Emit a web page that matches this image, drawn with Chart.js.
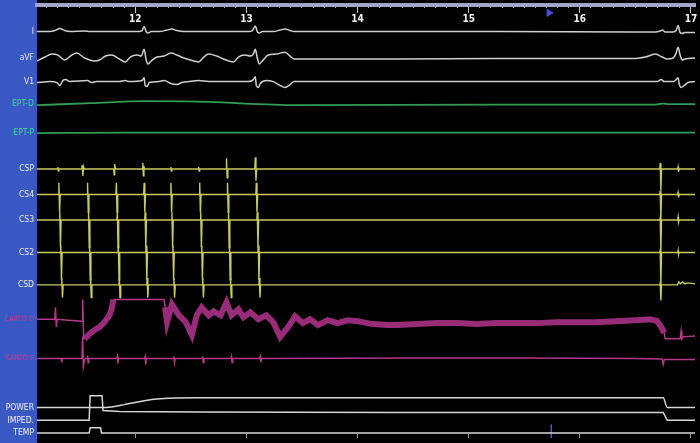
<!DOCTYPE html>
<html>
<head>
<meta charset="utf-8">
<script src="https://cdn.jsdelivr.net/npm/chart.js@4.4.1/dist/chart.umd.min.js"></script>
<style>
  html, body { margin: 0; padding: 0; background: #000; }
  #wrap { width: 700px; height: 443px; }
</style>
</head>
<body>
<div id="wrap"><canvas id="epChart" width="700" height="443"></canvas></div>
<script>
// time window shown on screen (seconds)
const timeMin = 11.116;
const timeMax = 17.036;
const majorTicks = [12, 13, 14, 15, 16, 17];
const majorTickLabels = ['12', '13', '14', '15', '16', '17'];

// channels, top to bottom, and their screen lanes (display units from the top)
const channelNames = ['I', 'aVF', 'V1', 'EPT-D', 'EPT-P', 'CSP', 'CS4', 'CS3', 'CS2', 'CSD', 'CARTO D', 'CARTO P', 'POWER', 'IMPED.', 'TEMP'];
const channelLanes = [29, 56, 80, 103, 132, 169, 195, 221, 254, 287, 322, 362, 412, 425, 438];
const labelColors = ['#e6e6ee', '#e6e6ee', '#e6e6ee', '#3ddc97', '#3ddc97', '#ececd8', '#ececd8', '#ececd8', '#ececd8', '#ececd8', '#e0308a', '#e0308a', '#f0f0f0', '#f0f0f0', '#f0f0f0'];

// each signal: [time s, deflection up]
const sigI = [[11.116,0],[11.232,0],[11.277,1],[11.321,3],[11.366,1],[11.411,0],[11.545,0.5],[11.589,0],[12.036,0],[12.0625,1],[12.080,5],[12.098,0],[12.116,-1.5],[12.143,0],[12.214,0],[12.286,1.5],[12.330,2.5],[12.375,1],[12.4375,0],[13.018,0],[13.054,1],[13.080,5.5],[13.098,0],[13.116,-1.5],[13.143,0],[13.241,0],[13.304,1.5],[13.348,2.5],[13.393,1],[13.429,0],[15.25,0],[16.5,-0.5],[16.679,-0.5],[16.723,0.5],[16.741,1.5],[16.768,-0.5],[16.839,-0.5],[16.866,1],[16.884,6],[16.902,-1],[16.920,-2],[16.946,-1],[17.036,-1]];
const sigAVF = [[11.116,-3],[11.1875,1],[11.25,4],[11.304,3],[11.366,-2],[11.429,3],[11.473,5],[11.545,0],[11.634,-3],[11.679,-2],[11.732,2],[11.786,3],[11.857,-1],[11.911,-4],[11.955,1],[12.018,3],[12.054,2],[12.080,9],[12.098,-2],[12.116,-6],[12.143,-3],[12.196,1],[12.259,2],[12.321,5],[12.375,3],[12.4375,0],[12.527,-3],[12.571,-4],[12.616,1],[12.661,4],[12.732,2],[12.795,-1],[12.884,-4],[12.929,1],[12.982,3],[13.036,2],[13.0625,4],[13.080,9],[13.098,0],[13.116,-6],[13.143,-3],[13.196,3],[13.268,4],[13.348,6],[13.393,2],[13.429,-1],[14.357,-1],[15.25,-0.5],[16.5,-0.5],[16.589,1],[16.679,4],[16.741,1],[16.786,-1],[16.839,0],[16.866,5],[16.884,11],[16.902,3],[16.920,-2],[16.946,-1],[17.036,0]];
const sigV1 = [[11.116,-1],[11.232,0],[11.295,-1],[11.321,-4],[11.348,1],[11.375,2],[11.411,0],[11.571,1],[11.607,-1],[11.652,0],[11.857,0],[11.911,1],[11.946,0],[12.0625,1],[12.080,4],[12.089,-4],[12.107,-5],[12.125,-1],[12.214,0],[12.259,1],[12.321,-2],[12.375,-3],[12.420,-1],[12.482,0],[12.571,1],[12.661,0],[13.018,0],[13.0625,2],[13.080,5],[13.089,-4],[13.107,-6],[13.125,-2],[13.179,1],[13.241,0],[13.304,-4],[13.348,-6],[13.393,-3],[13.429,0],[15.25,0],[16.696,0],[16.732,2],[16.759,0],[16.839,0],[16.866,2],[16.884,4],[16.893,-2],[16.911,-6],[16.938,-4],[16.973,-1],[17.036,0]];
const sigEptD = [[11.116,-1],[11.6,1],[12.080,3],[12.571,2.5],[13.464,-1],[15.25,-0.5],[16.679,-0.5],[16.741,0.5],[16.813,0],[17.036,0]];
const sigEptP = [[11.116,-0.5],[12.0,0],[17.036,0]];

const sigCSP = [[11.116,0],[11.300,0],[11.304,2],[11.308,-2],[11.312,0],[11.519,0],[11.523,4],[11.529,-7],[11.535,2],[11.541,0],[11.806,0],[11.810,-6],[11.815,5],[11.821,0],[12.064,0],[12.068,6],[12.073,-7],[12.078,3],[12.083,0],[12.317,0],[12.321,2],[12.325,-2],[12.329,0],[12.567,0],[12.571,2],[12.575,-2],[12.579,0],[12.817,0],[12.821,11],[12.827,-9],[12.833,0],[13.076,0],[13.080,12],[13.086,-12],[13.092,0],[16.719,0],[16.723,6],[16.729,-22],[16.735,0],[16.880,0],[16.884,2],[16.888,-3],[16.893,0],[17.036,0]];
const sigCS4 = [[11.116,0],[11.309,0],[11.313,12],[11.319,-18],[11.325,0],[11.567,0],[11.571,12],[11.577,-18],[11.583,0],[11.826,0],[11.830,12],[11.836,-18],[11.842,0],[12.076,0],[12.080,12],[12.086,-18],[12.092,0],[12.317,0],[12.321,12],[12.327,-18],[12.333,0],[12.576,0],[12.580,12],[12.586,-18],[12.592,0],[12.826,0],[12.830,12],[12.836,-18],[12.842,0],[13.085,0],[13.089,12],[13.095,-18],[13.101,0],[16.719,0],[16.723,4],[16.729,-24],[16.735,0],[16.880,0],[16.884,2],[16.888,-3],[16.893,0],[17.036,0]];
const sigCS3 = [[11.116,0],[11.317,0],[11.321,8],[11.327,-28],[11.333,0],[11.576,0],[11.580,8],[11.586,-28],[11.592,0],[11.835,0],[11.839,8],[11.845,-28],[11.851,0],[12.085,0],[12.089,8],[12.095,-28],[12.101,0],[12.326,0],[12.330,8],[12.336,-28],[12.342,0],[12.585,0],[12.589,8],[12.595,-28],[12.601,0],[12.835,0],[12.839,8],[12.845,-28],[12.851,0],[13.094,0],[13.098,8],[13.104,-28],[13.110,0],[16.719,0],[16.723,2],[16.729,-31],[16.735,0],[16.880,0],[16.884,3],[16.888,-2],[16.893,0],[17.036,0]];
const sigCS2 = [[11.116,0],[11.326,0],[11.330,7],[11.336,-28],[11.342,0],[11.585,0],[11.589,7],[11.595,-28],[11.601,0],[11.844,0],[11.848,7],[11.854,-28],[11.860,0],[12.094,0],[12.098,7],[12.104,-28],[12.110,0],[12.335,0],[12.339,7],[12.345,-28],[12.351,0],[12.594,0],[12.598,7],[12.604,-28],[12.610,0],[12.844,0],[12.848,7],[12.854,-28],[12.860,0],[13.103,0],[13.107,7],[13.113,-28],[13.119,0],[16.719,0],[16.723,2],[16.729,-32],[16.735,0],[16.880,0],[16.884,2],[16.888,-2],[16.893,0],[17.036,0]];
const sigCSD = [[11.116,0],[11.335,0],[11.339,7],[11.345,-13],[11.351,0],[11.594,0],[11.598,7],[11.604,-13],[11.610,0],[11.853,0],[11.857,7],[11.863,-13],[11.869,0],[12.103,0],[12.107,7],[12.113,-13],[12.119,0],[12.344,0],[12.348,7],[12.354,-13],[12.360,0],[12.603,0],[12.607,7],[12.613,-13],[12.619,0],[12.853,0],[12.857,7],[12.863,-13],[12.869,0],[13.112,0],[13.116,7],[13.122,-13],[13.128,0],[16.719,0],[16.723,2],[16.729,-16],[16.735,0],[16.880,0],[16.890,3],[16.905,1],[16.925,3],[16.945,1],[16.970,2],[17.036,1]];

// ablation catheter distal: quiet, ramp, saturated plateau, noisy band, after RF off
const cartoDPre = [[11.116,0],[11.277,0],[11.282,12],[11.290,-8],[11.296,0],[11.400,-1],[11.522,-2],[11.527,20],[11.536,-20],[11.545,-20]];
const cartoDRamp = [[11.545,-20],[11.589,-15],[11.634,-11],[11.679,-8],[11.723,-3],[11.768,4],[11.786,10],[11.804,20]];
const cartoDPlateau = [[11.804,20],[12.259,20],[12.268,12]];
const cartoDNoise = [[12.268,12],[12.286,-3],[12.330,15],[12.393,4],[12.455,-3],[12.509,-16],[12.554,4],[12.598,12],[12.661,4],[12.705,8],[12.768,4],[12.821,17],[12.866,4],[12.929,10],[12.973,2],[13.036,7],[13.107,0],[13.179,4],[13.241,-3],[13.304,-18],[13.375,-8],[13.438,3],[13.509,-4],[13.571,0],[13.643,-6],[13.732,-1],[13.821,-4],[13.911,-1],[14.0,-2],[14.134,-5],[14.268,-6],[14.357,-6],[14.536,-5],[14.714,-4],[14.893,-4],[15.071,-5],[15.25,-4],[15.429,-4],[15.607,-4],[15.786,-3],[15.964,-3],[16.143,-3],[16.321,-2],[16.5,-1],[16.634,0],[16.696,-2],[16.732,-8],[16.759,-14]];
const cartoDPost = [[16.759,-14],[16.768,-20],[16.902,-20],[16.911,-12],[16.918,-20],[16.930,-18],[17.036,-17]];
const sigCartoP = [[11.116,0],[11.333,0],[11.339,-4],[11.346,0],[11.520,0],[11.527,22],[11.533,-8],[11.541,-3],[11.550,0],[11.566,0],[11.571,3],[11.576,-4],[11.582,0],[11.834,0],[11.839,2],[11.844,-5],[11.850,0],[12.084,0],[12.089,2],[12.094,-6],[12.100,0],[12.343,0],[12.348,2],[12.353,-4],[12.359,0],[12.602,0],[12.607,2],[12.612,-4],[12.618,0],[12.861,0],[12.866,2],[12.871,-4],[12.877,0],[13.120,0],[13.125,2],[13.130,-4],[13.136,0],[14.5,0.5],[15.5,0.5],[16.5,0],[16.740,-0.5],[16.750,-6],[16.760,-1],[17.036,-1]];

const sigPower = [[11.116,0],[11.723,0],[11.8125,1],[11.902,3],[12.036,6],[12.170,8.5],[12.304,9.5],[12.571,10],[14.357,10],[16.75,10],[16.786,0],[17.036,0]];
const sigImped = [[11.116,0],[11.585,0],[11.594,25],[11.701,25],[11.710,10],[11.857,9],[12.571,8.5],[14.357,8],[16.75,8],[16.786,0],[17.036,0]];
const sigTemp = [[11.116,0],[11.585,0],[11.594,5.5],[11.6875,5.5],[11.696,0],[17.036,0]];

// cursor at the top and bottom of the screen
const cursorTime = 15.723;

const toPoints = (sig, lane) => sig.map(([t, dv]) => ({ x: t, y: lane - dv }));
const lane = name => channelLanes[channelNames.indexOf(name)];

const ECG = '#cfcfcf', EPT = '#2f9e52', CS = '#c9c95c', CARTO = '#b5388a', BAND = '#982c79', RF = '#d6d6d6';
const labelFont = "'Liberation Sans Narrow', 'DejaVu Sans Condensed', sans-serif";

function trace(sig, name, color, width, smooth) {
  return {
    data: toPoints(sig, lane(name)),
    borderColor: color,
    borderWidth: width,
    pointRadius: 0,
    tension: 0,
    cubicInterpolationMode: smooth ? 'monotone' : 'default',
    fill: false
  };
}

const datasets = [
  trace(sigI, 'I', ECG, 1.5, true),
  trace(sigAVF, 'aVF', ECG, 1.5, true),
  trace(sigV1, 'V1', ECG, 1.5, true),
  trace(sigEptD, 'EPT-D', EPT, 1.8, true),
  trace(sigEptP, 'EPT-P', EPT, 1.8, true),
  trace(sigCSP, 'CSP', CS, 1.4, false),
  trace(sigCS4, 'CS4', CS, 1.4, false),
  trace(sigCS3, 'CS3', CS, 1.4, false),
  trace(sigCS2, 'CS2', CS, 1.4, false),
  trace(sigCSD, 'CSD', CS, 1.4, false),
  trace(cartoDPre, 'CARTO D', CARTO, 1.5, false),
  trace(cartoDRamp, 'CARTO D', BAND, 6, false),
  trace(cartoDPlateau, 'CARTO D', CARTO, 1.5, false),
  trace(cartoDNoise, 'CARTO D', BAND, 6, false),
  trace(cartoDNoise, 'CARTO D', '#c8489f', 1, false),
  trace(cartoDPost, 'CARTO D', CARTO, 1.5, false),
  trace(sigCartoP, 'CARTO P', CARTO, 1.5, false),
  trace(sigPower, 'POWER', RF, 1.5, true),
  trace(sigImped, 'IMPED.', RF, 1.5, false),
  trace(sigTemp, 'TEMP', RF, 1.5, false),
  {
    data: [{ x: cursorTime, y: 10 }],
    showLine: false,
    pointStyle: 'triangle',
    rotation: 90,
    pointRadius: 4,
    backgroundColor: '#4b4fd6',
    borderColor: '#4b4fd6'
  },
  {
    data: [{ x: cursorTime + 0.02, y: 429 }, { x: cursorTime + 0.02, y: 443 }],
    borderColor: '#4b4fd6',
    borderWidth: 1.5,
    pointRadius: 0
  }
];

const panelPlugin = {
  id: 'panel',
  beforeDraw(chart) {
    const { ctx, chartArea } = chart;
    ctx.save();
    ctx.fillStyle = '#000';
    ctx.fillRect(0, 0, chart.width, chart.height);
    ctx.fillStyle = '#3a58c4';
    ctx.fillRect(0, 0, chartArea.left, chart.height);
    ctx.restore();
  }
};

const noPad = axis => { axis.paddingLeft = 0; axis.paddingRight = 0; axis.paddingTop = 0; axis.paddingBottom = 0; };

// long names need a smaller label to fit the side panel
const labelSize = c => {
  const name = channelNames[c.index];
  return { family: labelFont, size: name && name.length > 6 ? 7.3 : 8.5 };
};

const ctx = document.getElementById('epChart').getContext('2d');
const epChart = new Chart(ctx, {
  type: 'line',
  data: { datasets: datasets },
  options: {
    responsive: false,
    animation: false,
    events: [],
    layout: { padding: 0 },
    plugins: { legend: { display: false }, tooltip: { enabled: false } },
    scales: {
      x: {
        type: 'linear', position: 'top', min: timeMin, max: timeMax,
        afterBuildTicks: axis => { axis.ticks = majorTicks.map(v => ({ value: v })); },
        afterFit: axis => { axis.height = 2; noPad(axis); },
        grid: { drawOnChartArea: false, tickLength: -8, tickColor: '#c4c4d4', tickWidth: 1 },
        border: { display: true, color: '#a3a6c9', width: 4 },
        ticks: {
          autoSkip: false, maxRotation: 0, mirror: true, padding: 8, color: '#f2f2f2',
          font: { family: labelFont, size: 10, weight: 'bold' },
          callback: (v, i) => majorTickLabels[i]
        }
      },
      xMinor: {
        type: 'linear', position: 'top', min: timeMin, max: timeMax,
        afterFit: axis => { axis.height = 0; noPad(axis); },
        grid: { drawOnChartArea: false, tickLength: -5, tickColor: '#a8a8b8', tickWidth: 1 },
        border: { display: false },
        ticks: { display: false, autoSkip: false, stepSize: 0.1, includeBounds: false }
      },
      xBottom: {
        type: 'linear', position: 'bottom', min: timeMin, max: timeMax,
        afterBuildTicks: axis => { axis.ticks = majorTicks.map(v => ({ value: v })); },
        afterFit: axis => { axis.height = 0; noPad(axis); },
        grid: { drawOnChartArea: false, tickLength: -4, tickColor: '#9a9a9a', tickWidth: 1 },
        border: { display: false },
        ticks: { display: false }
      },
      y: {
        type: 'linear', reverse: true, min: 2, max: 443,
        afterBuildTicks: axis => { axis.ticks = channelLanes.map(v => ({ value: v })); },
        afterFit: axis => { axis.width = 37; noPad(axis); },
        grid: { display: false, drawTicks: false },
        border: { display: false },
        ticks: {
          autoSkip: false, padding: 3,
          color: c => labelColors[c.index],
          font: labelSize,
          callback: (v, i) => channelNames[i]
        }
      }
    }
  },
  plugins: [panelPlugin]
});
</script>
</body>
</html>
